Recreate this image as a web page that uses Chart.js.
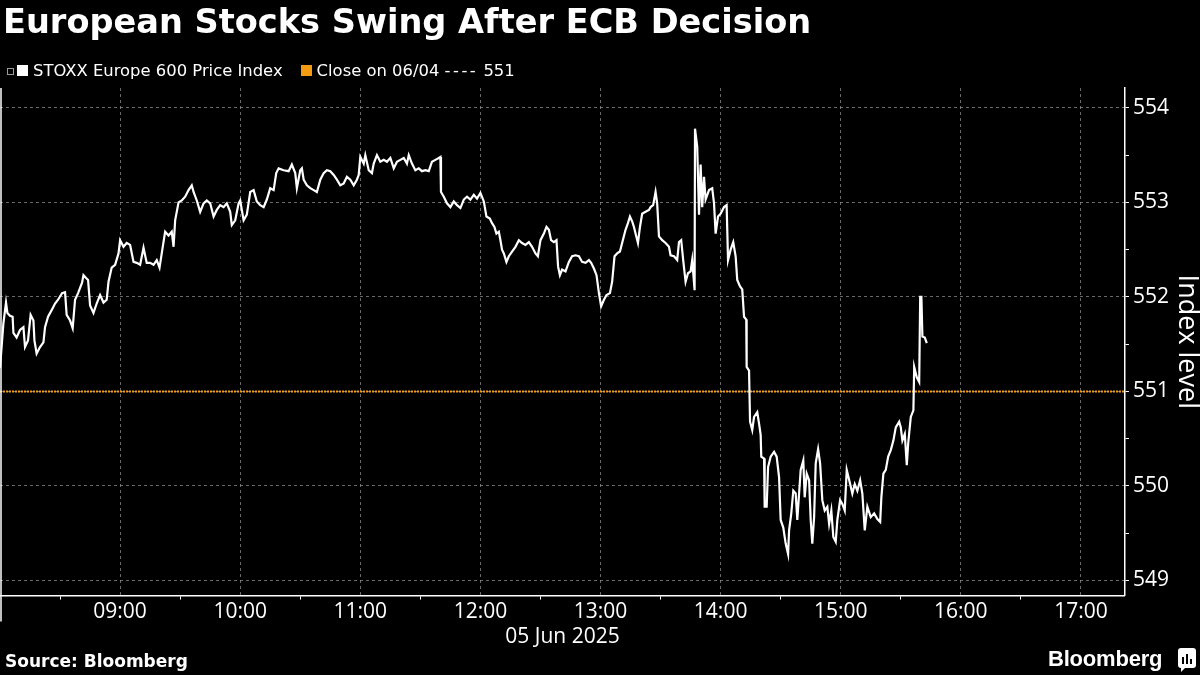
<!DOCTYPE html>
<html>
<head>
<meta charset="utf-8">
<script src="https://cdn.jsdelivr.net/npm/chart.js@4.4.1/dist/chart.umd.min.js"></script>
<style>
  html, body { margin: 0; padding: 0; background: #000; }
  #wrap { position: relative; width: 1200px; height: 675px; background: #000; overflow: hidden; }
  #chart { position: absolute; left: 0; top: 0; }
  .title { position: absolute; left: 3px; top: 2px; color: #fff; font: bold 33.6px "DejaVu Sans", sans-serif; white-space: nowrap; }
  .legend { position: absolute; left: 7px; top: 61px; color: #fff; font: 16.4px "DejaVu Sans", sans-serif; white-space: nowrap; display: flex; align-items: center; }
  .legend .sw { display: inline-block; width: 11px; height: 11px; margin-right: 5px; }
  .legend .icon { display: inline-block; width: 5px; height: 5px; border: 1px solid #999; margin-right: 3px; position: relative; top: 1px; }
  .legend .gap { display: inline-block; width: 18px; }
  .legend .dash { letter-spacing: 2.5px; }
  .source { position: absolute; left: 5px; top: 651px; color: #fff; font: bold 17px "DejaVu Sans", sans-serif; }
  .brand { position: absolute; left: 1048px; top: 646px; color: #fff; font: bold 22px "Liberation Sans", sans-serif; letter-spacing: -0.2px; }
  .brand-icon { position: absolute; left: 1178px; top: 648px; }
</style>
</head>
<body>
<div id="wrap">
  <canvas id="chart" width="1200" height="675"></canvas>
  <div class="title">European Stocks Swing After ECB Decision</div>
  <div class="legend">
    <span class="icon"></span><span class="sw" style="background:#fff"></span><span>STOXX Europe 600 Price Index</span>
    <span class="gap"></span>
    <span class="sw" style="background:#f39c12"></span><span>Close on 06/04 <span class="dash">----</span> 551</span>
  </div>
  <div class="source">Source: Bloomberg</div>
  <div class="brand">Bloomberg</div>
  <svg class="brand-icon" width="18" height="24" viewBox="0 0 18 24">
    <path d="M3 0 H15 Q18 0 18 3 V17 Q18 20 15 20 H7 L3 24 V20 Q0 20 0 17 V3 Q0 0 3 0 Z" fill="#fff"/>
    <rect x="4" y="9" width="2" height="7" fill="#000"/>
    <rect x="8" y="6" width="2" height="10" fill="#000"/>
    <rect x="12" y="11" width="2" height="5" fill="#000"/>
  </svg>
</div>
<script>
// minutes after the 08:00 open
const minutesSinceOpen = [
  0, 1.7, 3, 3.7, 5, 6.3, 6.7, 8.3, 10, 11.7, 12.5, 14, 15.3, 16.7, 17.2, 18.3, 20, 21.7, 22.5, 24,
  25.8, 27.5, 29, 31, 32.5, 33.3, 35, 36.3, 37.5, 39, 41, 41.7, 43, 44, 45, 46.7, 48.3, 50, 51.7, 53.3,
  54.2, 55.8, 57.5, 59.2, 60, 61.7, 63.3, 65, 66.7, 68.3, 70, 71.7, 73.3, 75, 76.7, 78.3, 79.7, 80.8, 82.5, 84.2,
  85.8, 86.7, 87.5, 89.2, 90.8, 92.5, 94.2, 95.8, 96.7, 98.3, 100, 101.7, 103.3, 105, 106.7, 108.3, 110, 111.7, 113.3, 115,
  115.8, 117.5, 119.2, 120, 121.7, 123.3, 125, 126.7, 128.3, 130, 131.7, 133.3, 135, 136.7, 138, 139.2, 141.7, 144.2, 145.8, 147.5,
  148.3, 150, 150.8, 151.7, 153.3, 155, 156.7, 158.3, 160, 161.7, 163.3, 165, 166.7, 168.3, 170, 171.7, 173.3, 175, 176.7, 178.3,
  179.2, 180, 181.7, 182.5, 184.2, 185.8, 186.7, 188.3, 190, 191.7, 193.3, 195, 196.7, 198.3, 200, 201.7, 203.3, 204.2, 205.8, 207.5,
  209.2, 210.8, 212.5, 214.2, 215.8, 217.5, 219.2, 220, 220.3, 221.7, 223.3, 225, 226.7, 228.3, 230, 231.7, 233.3, 235, 236.7, 238.3,
  240, 241.7, 243, 244.7, 245.8, 247, 248, 249.2, 250, 250.8, 251.7, 253, 254.2, 255.8, 257.5, 259.2, 260.8, 262.5, 264.2, 265.8,
  267.5, 268.7, 270, 271.7, 273, 274.2, 275.3, 276.7, 278, 278.8, 279.7, 280.8, 282.5, 284.2, 285.8, 287.5, 289.2, 290.8, 292.5, 294.2,
  295.3, 296.7, 298, 299.2, 300.3, 301.7, 303, 304.7, 305.8, 307, 308.3, 309.7, 310.8, 312.5, 313.7, 314.7, 315.8, 316.7, 317.5, 318.7,
  319.7, 320.8, 322.5, 324.2, 325, 326.3, 327.5, 328.3, 329.2, 330.8, 332.5, 334.2, 335, 336.7, 338.3, 339.2, 340.3, 341.3, 342.5, 343.7,
  345, 345.8, 347, 347.2, 348.3, 349.2, 350, 350.8, 351.7, 352.5, 354.2, 355.8, 356.7, 357.5, 358.7, 360, 361.7, 363, 363.7, 365,
  366.3, 367.5, 368.3, 369.7, 370.8, 371.7, 372.8, 373, 374.2, 374.7, 375.8, 376.7, 378.3, 379.2, 380, 380.3, 381.7, 382, 383, 383.7,
  385, 386.7, 388, 389.2, 390, 391.3, 392.5, 393.7, 394.2, 395.3, 396.3, 397.5, 398.3, 399.2, 400, 401.3, 402, 403, 404.2, 405,
  405.8, 406.7, 407.5, 408.7, 409.7, 410.8, 412, 413.3, 414.2, 415.3, 416.3, 417.5, 418.3, 419.7, 420.8, 422, 423, 424.7, 425.8, 427,
  428.3, 429.7, 430.8, 432, 433.3, 435, 436.7, 438.3, 439.7, 440.3, 441.3, 442.5, 443.7, 445, 446.3, 447.5, 449.2, 450, 450.8, 452,
  453, 453.7, 455, 456.3, 456.7, 458, 459.2, 459.7, 460.3, 460.8, 462, 463
];

const stoxxLevels = [
  551.25, 551.72, 551.94, 551.83, 551.80, 551.79, 551.62, 551.57, 551.65, 551.68, 551.47, 551.54, 551.81, 551.75, 551.54, 551.40, 551.47, 551.52, 551.68, 551.79,
  551.86, 551.93, 551.97, 552.04, 552.05, 551.81, 551.75, 551.67, 551.97, 552.04, 552.15, 552.23, 552.20, 552.18, 551.91, 551.83, 551.93, 552.02, 551.94, 551.97,
  552.16, 552.31, 552.34, 552.46, 552.60, 552.53, 552.57, 552.55, 552.37, 552.36, 552.34, 552.52, 552.36, 552.36, 552.34, 552.39, 552.31, 552.46, 552.69, 552.65,
  552.69, 552.53, 552.81, 553.00, 553.02, 553.06, 553.13, 553.18, 553.11, 553.02, 552.90, 552.99, 553.02, 552.99, 552.85, 552.92, 552.97, 552.95, 552.99, 552.90,
  552.76, 552.81, 552.99, 553.02, 552.81, 552.87, 553.11, 553.13, 553.01, 552.97, 552.95, 553.03, 553.15, 553.13, 553.31, 553.36, 553.34, 553.33, 553.40, 553.31,
  553.15, 553.34, 553.36, 553.24, 553.18, 553.15, 553.13, 553.11, 553.24, 553.31, 553.34, 553.33, 553.29, 553.24, 553.18, 553.20, 553.27, 553.24, 553.18, 553.24,
  553.29, 553.48, 553.41, 553.50, 553.34, 553.31, 553.41, 553.50, 553.43, 553.45, 553.43, 553.47, 553.36, 553.43, 553.45, 553.47, 553.41, 553.50, 553.41, 553.34,
  553.36, 553.33, 553.34, 553.33, 553.43, 553.45, 553.47, 553.48, 553.11, 553.06, 552.99, 552.95, 553.01, 552.97, 552.94, 553.03, 553.06, 553.03, 553.08, 553.04,
  553.10, 553.01, 552.85, 552.83, 552.78, 552.74, 552.67, 552.69, 552.60, 552.50, 552.46, 552.37, 552.43, 552.48, 552.53, 552.60, 552.57, 552.55, 552.58, 552.53,
  552.46, 552.43, 552.60, 552.67, 552.74, 552.71, 552.60, 552.58, 552.60, 552.32, 552.23, 552.29, 552.27, 552.37, 552.43, 552.44, 552.43, 552.37, 552.36, 552.39,
  552.36, 552.30, 552.23, 552.04, 551.90, 551.97, 552.02, 552.04, 552.16, 552.43, 552.46, 552.48, 552.57, 552.71, 552.78, 552.85, 552.80, 552.74, 552.67, 552.57,
  552.74, 552.88, 552.90, 552.92, 552.95, 552.97, 553.11, 552.99, 552.64, 552.60, 552.57, 552.53, 552.44, 552.43, 552.39, 552.58, 552.60, 552.39, 552.16, 552.25,
  552.27, 552.39, 552.07, 553.78, 553.59, 552.87, 553.40, 552.95, 553.27, 553.03, 553.13, 553.15, 552.99, 552.67, 552.85, 552.88, 552.95, 552.97, 552.39, 552.50,
  552.58, 552.43, 552.18, 552.11, 552.08, 551.79, 551.76, 551.26, 551.22, 550.68, 550.59, 550.73, 550.78, 550.66, 550.54, 550.31, 550.29, 549.78, 549.78, 550.20,
  550.31, 550.36, 550.31, 550.09, 549.64, 549.56, 549.39, 549.28, 549.53, 549.71, 549.95, 549.92, 549.64, 549.92, 550.17, 550.27, 549.88, 550.13, 550.06, 549.64,
  549.39, 549.67, 550.24, 550.39, 550.24, 549.85, 549.74, 549.78, 549.60, 549.74, 549.46, 549.41, 549.64, 549.85, 549.81, 549.74, 550.17, 550.02, 549.92, 550.02,
  549.95, 550.06, 549.92, 549.53, 549.78, 549.67, 549.71, 549.65, 549.62, 549.88, 550.13, 550.17, 550.31, 550.38, 550.48, 550.62, 550.68, 550.62, 550.48, 550.55,
  550.22, 550.45, 550.73, 550.80, 551.26, 551.15, 551.10, 552.00, 552.00, 551.58, 551.57, 551.51
];

const previousClose = 551;
const sessionStart = '08:00';
const axisEnd = '17:22';
const hourLabels = ['09:00', '10:00', '11:00', '12:00', '13:00', '14:00', '15:00', '16:00', '17:00'];
const halfHourTicks = ['08:30', '09:30', '10:30', '11:30', '12:30', '13:30', '14:30', '15:30', '16:30'];
const levelTicks = [549, 550, 551, 552, 553, 554];
const levelMinorTicks = [549.5, 550.5, 551.5, 552.5, 553.5];
const dateLabel = '05 Jun 2025';

const openMinute = Number(sessionStart.slice(0, 2)) * 60 + Number(sessionStart.slice(3));
function toMinutes(hhmm) {
  const [h, m] = hhmm.split(':').map(Number);
  return h * 60 + m - openMinute;
}
function toClock(min) {
  const total = min + openMinute;
  const h = Math.floor(total / 60), m = Math.round(total % 60);
  return String(h).padStart(2, '0') + ':' + String(m).padStart(2, '0');
}

const hourSet = new Set(hourLabels.map(toMinutes));
const gridGrey = 'rgba(140,140,140,0.75)';
const axisFont = { family: '"Open Sans", "DejaVu Sans", sans-serif', size: 21 };

// vertical start-of-day line on the left edge
const dayLine = {
  id: 'dayLine',
  afterDraw(chart) {
    const { ctx, chartArea, scales } = chart;
    const x = scales.x.getPixelForValue(0) + 1;
    ctx.save();
    ctx.strokeStyle = '#fff';
    ctx.lineWidth = 1.5;
    ctx.beginPath();
    ctx.moveTo(x, chartArea.top);
    ctx.lineTo(x, chartArea.bottom + 26);
    ctx.stroke();
    ctx.restore();
  }
};

new Chart(document.getElementById('chart'), {
  type: 'line',
  data: {
    datasets: [
      {
        label: 'STOXX Europe 600 Price Index',
        data: minutesSinceOpen.map((m, i) => ({ x: m, y: stoxxLevels[i] })),
        borderColor: '#ffffff',
        borderWidth: 2.2,
        pointRadius: 0,
        tension: 0
      },
      {
        label: 'Close on 06/04',
        data: [
          { x: 0, y: previousClose },
          { x: toMinutes(axisEnd), y: previousClose }
        ],
        borderColor: '#f39c12',
        borderWidth: 2,
        borderDash: [2, 1],
        pointRadius: 0
      }
    ]
  },
  options: {
    responsive: false,
    animation: false,
    layout: { padding: { top: 88, left: 0, right: 0, bottom: 25 } },
    plugins: { legend: { display: false }, tooltip: { enabled: false } },
    scales: {
      x: {
        type: 'linear',
        min: 0,
        max: toMinutes(axisEnd),
        afterBuildTicks(scale) {
          scale.ticks = hourLabels.concat(halfHourTicks)
            .map(t => ({ value: toMinutes(t) }))
            .sort((a, b) => a.value - b.value);
        },
        ticks: {
          color: '#fff',
          font: axisFont,
          padding: 0,
          maxRotation: 0,
          autoSkip: false,
          callback: v => (hourSet.has(v) ? toClock(v) : '')
        },
        grid: {
          color: c => (c.tick && hourSet.has(c.tick.value) ? gridGrey : 'rgba(0,0,0,0)'),
          tickColor: c => (c.tick && hourSet.has(c.tick.value) ? 'rgba(0,0,0,0)' : '#fff'),
          tickLength: 4,
          lineWidth: 1
        },
        border: { display: true, color: '#fff', width: 1.5, dash: [3, 3] },
        title: { display: true, text: dateLabel, color: '#fff', font: axisFont, padding: { top: 0, bottom: 0 } }
      },
      y: {
        position: 'right',
        min: 548.84,
        max: 554.21,
        afterBuildTicks(scale) {
          scale.ticks = levelTicks.concat(levelMinorTicks)
            .map(v => ({ value: v }))
            .sort((a, b) => a.value - b.value);
        },
        ticks: {
          color: '#fff',
          font: axisFont,
          padding: 4,
          callback: v => (levelTicks.includes(v) ? String(v) : '')
        },
        grid: {
          color: c => (c.tick && levelTicks.includes(c.tick.value) ? gridGrey : 'rgba(0,0,0,0)'),
          tickColor: '#fff',
          tickLength: 4,
          lineWidth: 1
        },
        border: { display: true, color: '#fff', width: 1.5, dash: [3, 3] },
        title: { display: true, text: 'Index level', color: '#fff', font: { family: '"Open Sans", "DejaVu Sans", sans-serif', size: 27, lineHeight: 1 }, padding: { top: 0, bottom: 0 } }
      }
    }
  },
  plugins: [dayLine]
});
</script>
</body>
</html>
